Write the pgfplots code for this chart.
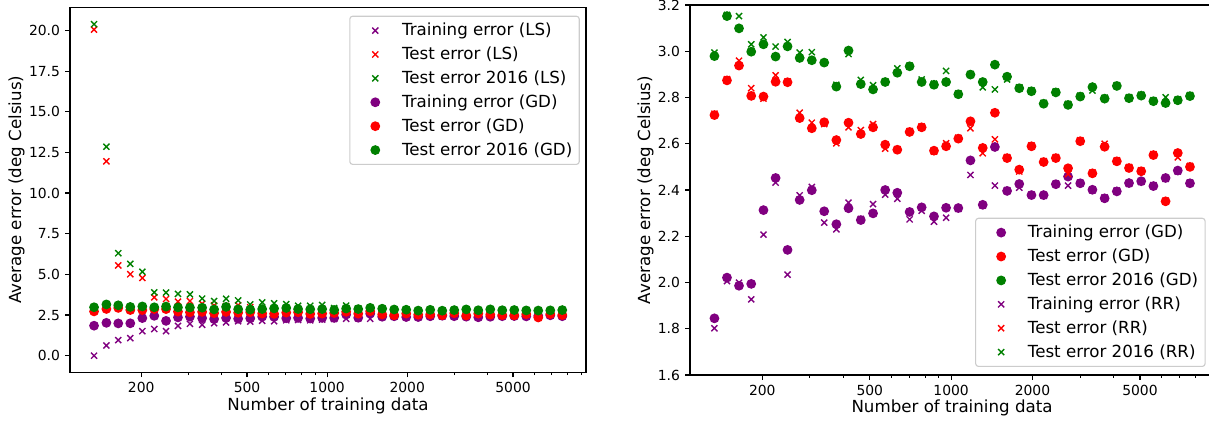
\documentclass[border=0pt]{standalone}
\usepackage{fontspec}
\setmainfont{DejaVu Sans}
\usepackage{pgfplots}
\usepackage{pgfplotstable}
\pgfplotsset{compat=1.18}

\definecolor{mplpurple}{HTML}{800080}
\definecolor{mplred}{HTML}{FF0000}
\definecolor{mplgreen}{HTML}{008000}

% Gradient descent: training error, test error, test error on 2016 data
\pgfplotstableread{
n     tr     te     te16
133   1.845  2.724  2.979
148   2.021  2.874  3.152
164   1.986  2.938  3.099
182   1.994  2.807  2.998
202   2.313  2.804  3.030
224   2.452  2.868  2.977
248   2.141  2.866  3.021
275   2.357  2.711  2.971
305   2.399  2.667  2.961
339   2.308  2.693  2.951
376   2.252  2.616  2.847
417   2.321  2.691  3.003
463   2.270  2.642  2.858
514   2.299  2.671  2.835
570   2.400  2.596  2.867
632   2.388  2.574  2.907
702   2.305  2.651  2.935
778   2.325  2.671  2.867
864   2.286  2.570  2.855
958   2.323  2.589  2.867
1063  2.322  2.622  2.814
1179  2.528  2.697  2.899
1309  2.336  2.582  2.867
1452  2.586  2.734  2.942
1611  2.396  2.538  2.890
1787  2.426  2.488  2.840
1983  2.378  2.589  2.827
2200  2.378  2.521  2.773
2441  2.425  2.538  2.822
2709  2.458  2.494  2.768
3005  2.429  2.611  2.804
3334  2.401  2.472  2.845
3700  2.364  2.587  2.795
4105  2.394  2.524  2.850
4554  2.430  2.495  2.797
5053  2.438  2.481  2.808
5606  2.417  2.551  2.784
6220  2.452  2.351  2.776
6902  2.484  2.560  2.788
7657  2.429  2.500  2.806
}\gdtable

% Ridge regression
\pgfplotstableread{
n     tr     te     te16
133   1.802  2.730  2.994
148   2.006  2.879  3.157
164   1.999  2.959  3.152
182   1.927  2.840  3.030
202   2.207  2.795  3.060
224   2.432  2.896  3.020
248   2.034  2.870  3.040
275   2.377  2.734  2.994
305   2.413  2.691  2.996
339   2.259  2.685  2.951
376   2.230  2.602  2.855
417   2.345  2.671  2.988
463   2.275  2.659  2.876
514   2.339  2.685  2.853
570   2.380  2.579  2.870
632   2.362  2.577  2.926
702   2.273  2.655  2.938
778   2.310  2.675  2.878
864   2.263  2.566  2.860
958   2.280  2.602  2.915
1063  2.318  2.626  2.818
1179  2.465  2.667  2.902
1309  2.333  2.559  2.844
1452  2.419  2.619  2.835
1611  2.399  2.542  2.878
1787  2.410  2.480  2.844
1983  2.381  2.593  2.831
2200  2.375  2.525  2.777
2441  2.428  2.542  2.826
2709  2.419  2.469  2.772
3005  2.432  2.615  2.808
3334  2.398  2.476  2.830
3700  2.368  2.600  2.799
4105  2.398  2.528  2.853
4554  2.427  2.499  2.801
5053  2.435  2.485  2.812
5606  2.421  2.555  2.788
6220  2.448  2.354  2.801
6902  2.480  2.541  2.792
7657  2.432  2.504  2.810
}\rrtable

% Least squares
\pgfplotstableread{
n     tr     te      te16
133   0.00   20.05   20.38
148   0.63   11.95   12.85
164   0.96   5.55    6.30
182   1.08   5.01    5.65
202   1.51   4.78    5.16
224   1.64   3.59    3.89
248   1.51   3.49    3.88
275   1.83   3.32    3.80
305   1.96   3.36    3.77
339   1.90   3.19    3.51
376   2.00   3.09    3.36
417   2.05   3.05    3.50
463   2.12   3.10    3.40
514   2.10   2.98    3.15
570   2.15   2.85    3.28
632   2.12   2.82    3.22
702   2.18   2.85    3.17
778   2.20   2.80    3.07
864   2.18   2.70    3.07
958   2.22   2.72    3.12
1063  2.26   2.72    2.93
1179  2.27   2.76    3.08
1309  2.30   2.62    2.90
1452  2.27   2.70    2.88
1611  2.38   2.56    2.88
1787  2.40   2.50    2.85
1983  2.37   2.60    2.84
2200  2.37   2.53    2.78
2441  2.42   2.55    2.83
2709  2.41   2.48    2.78
3005  2.43   2.61    2.81
3334  2.39   2.48    2.84
3700  2.37   2.60    2.80
4105  2.40   2.53    2.85
4554  2.42   2.50    2.80
5053  2.43   2.49    2.81
5606  2.42   2.55    2.79
6220  2.44   2.36    2.79
6902  2.48   2.55    2.79
7657  2.43   2.50    2.81
}\lstable

% marker styles for the scatter series, with a wider legend handle
\pgfplotsset{
  markleg/.style={legend image code/.code={%
      \path[draw=none, fill=none] (0cm,0cm) (1.146cm,0cm);
      \draw[##1] plot coordinates {(0.539cm,0cm)};}},
  dotmark/.style={only marks, mark=*, mark size=3pt,
    mark options={draw=#1, fill=#1, line width=1pt}, markleg},
  crossmark/.style={only marks, mark=x, mark size=3.1pt,
    mark options={draw=#1, line width=1pt}, markleg},
}
\newcommand{\labelfont}{\fontsize{12}{14}\selectfont}

\begin{document}
\begin{tikzpicture}
% left panel: least squares vs gradient descent
\begin{axis}[
  scale only axis,
  at={(50.4pt,36.5pt)}, anchor=south west,
  width=371.5pt, height=262.8pt,
  xmode=log, log basis x=10,
  xmin=108, xmax=9400,
  xtick={200,500,1000,2000,5000},
  xticklabels={200,500,1000,2000,5000},
  minor xtick={300,400,600,700,800,900,3000,4000,6000,7000,8000,9000},
  ymin=-1.02, ymax=21.42,
  ytick={0,2.5,5,7.5,10,12.5,15,17.5,20},
  tick pos=left, tick align=outside,
  major tick length=3.5pt, minor tick length=2pt,
  line width=0.8pt,
  major tick style={black, line width=0.8pt},
  minor tick style={black, line width=0.6pt},
  /pgf/number format/assume math mode=true,
  yticklabel style={/pgf/number format/fixed, /pgf/number format/fixed zerofill, /pgf/number format/precision=1},
  xlabel={Number of training data},
  ylabel={Average error (deg Celsius)},
  xlabel style={font=\labelfont, at={(axis description cs:0.5,0)}, anchor=center, yshift=-24pt},
  ylabel style={font=\labelfont, at={(axis description cs:0,0.5)}, anchor=center, yshift=38.5pt},
  legend cell align=left,
  legend style={at={(0.988,0.977)}, anchor=north east, draw=black!20, rounded corners=2pt,
    fill=white, line width=0.8pt, font=\labelfont, row sep=2.6pt, inner xsep=3pt, inner ysep=3pt},
]
\addplot[crossmark=mplpurple] table[x=n, y=tr] {\lstable};
\addlegendentry{Training error (LS)}
\addplot[crossmark=mplred] table[x=n, y=te] {\lstable};
\addlegendentry{Test error (LS)}
\addplot[crossmark=mplgreen] table[x=n, y=te16] {\lstable};
\addlegendentry{Test error 2016 (LS)}
\addplot[dotmark=mplpurple] table[x=n, y=tr] {\gdtable};
\addlegendentry{Training error (GD)}
\addplot[dotmark=mplred] table[x=n, y=te] {\gdtable};
\addlegendentry{Test error (GD)}
\addplot[dotmark=mplgreen] table[x=n, y=te16] {\gdtable};
\addlegendentry{Test error 2016 (GD)}
\end{axis}

% right panel: gradient descent vs ridge regression
\begin{axis}[
  scale only axis,
  at={(496.8pt,34.56pt)}, anchor=south west,
  width=377.3pt, height=266.4pt,
  xmode=log, log basis x=10,
  xmin=108, xmax=9400,
  xtick={200,500,1000,2000,5000},
  xticklabels={200,500,1000,2000,5000},
  minor xtick={300,400,600,700,800,900,3000,4000,6000,7000,8000,9000},
  ymin=1.6, ymax=3.2,
  ytick={1.6,1.8,2.0,2.2,2.4,2.6,2.8,3.0,3.2},
  tick pos=left, tick align=outside,
  major tick length=3.5pt, minor tick length=2pt,
  line width=0.8pt,
  major tick style={black, line width=0.8pt},
  minor tick style={black, line width=0.6pt},
  /pgf/number format/assume math mode=true,
  yticklabel style={/pgf/number format/fixed, /pgf/number format/fixed zerofill, /pgf/number format/precision=1},
  xlabel={Number of training data},
  ylabel={Average error (deg Celsius)},
  xlabel style={font=\labelfont, at={(axis description cs:0.5,0)}, anchor=center, yshift=-24pt},
  ylabel style={font=\labelfont, at={(axis description cs:0,0.5)}, anchor=center, yshift=32pt},
  legend cell align=left,
  legend style={at={(0.984,0.425)}, anchor=north east, draw=black!20, rounded corners=2pt,
    fill=white, line width=0.8pt, font=\labelfont, row sep=2.6pt, inner xsep=3pt, inner ysep=3pt},
]
\addplot[dotmark=mplpurple] table[x=n, y=tr] {\gdtable};
\addlegendentry{Training error (GD)}
\addplot[dotmark=mplred] table[x=n, y=te] {\gdtable};
\addlegendentry{Test error (GD)}
\addplot[dotmark=mplgreen] table[x=n, y=te16] {\gdtable};
\addlegendentry{Test error 2016 (GD)}
\addplot[crossmark=mplpurple] table[x=n, y=tr] {\rrtable};
\addlegendentry{Training error (RR)}
\addplot[crossmark=mplred] table[x=n, y=te] {\rrtable};
\addlegendentry{Test error (RR)}
\addplot[crossmark=mplgreen] table[x=n, y=te16] {\rrtable};
\addlegendentry{Test error 2016 (RR)}
\end{axis}

\pgfresetboundingbox
\useasboundingbox (0,0) rectangle (870.48pt,304.56pt);
\end{tikzpicture}
\end{document}
